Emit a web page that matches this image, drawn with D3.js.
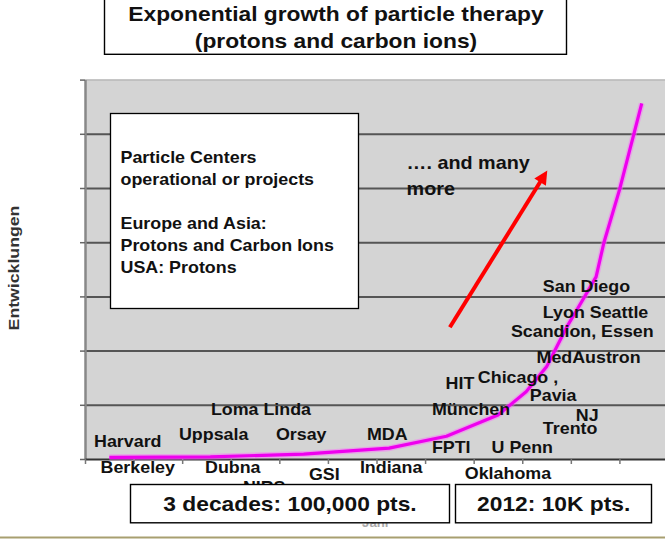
<!DOCTYPE html>
<html>
<head>
<meta charset="utf-8">
<script src="https://cdn.jsdelivr.net/npm/d3@7"></script>
<style>
  body { margin: 0; background: #fff; }
  svg { display: block; }
  text { font-family: "Liberation Sans", Arial, sans-serif; font-weight: bold; }
</style>
</head>
<body>
<script>
// growth curve (year, relative development)
const years  = [1957.5, 1967.9, 1977.5, 1986.3, 1992.2, 1997.5, 2000.4, 2002.5, 2004.6, 2006.4, 2007.6, 2008.4, 2010.0, 2012.3]
const values = [0.03, 0.04, 0.09, 0.20, 0.42, 0.81, 1.24, 1.70, 2.44, 2.99, 3.36, 3.99, 4.96, 6.56]

// centre names, with the year / level where each label sits
const centers      = ["Harvard", "Berkeley", "Uppsala", "Dubna", "NIRS", "Loma Linda", "Orsay", "GSI", "MDA", "Indiana",
                      "FPTI", "München", "HIT", "Oklahoma", "U Penn", "Chicago ,", "Pavia", "Trento", "NJ",
                      "MedAustron", "Scandion, Essen", "Lyon Seattle", "San Diego"]
const centerYears  = [1955.93, 1956.6, 1964.67, 1967.35, 1971.25, 1967.96, 1974.65, 1978.05, 1984.01, 1983.29,
                      1990.7, 1990.7, 1992.11, 1994.09, 1996.84, 1995.43, 2000.78, 2002.12, 2005.51,
                      2001.47, 1998.83, 2002.12, 2002.12]
const centerLevels = [0.22, -0.26, 0.35, -0.26, -0.63, 0.81, 0.35, -0.39, 0.35, -0.26,
                      0.11, 0.81, 1.29, -0.37, 0.11, 1.40, 1.07, 0.46, 0.70,
                      1.77, 2.25, 2.60, 3.08]

const yTicks = [0, 1, 2, 3, 4, 5, 6, 7]
const xTicks = [1955, 1960, 1965, 1970, 1975, 1980, 1985, 1990, 1995, 2000, 2005, 2010, 2015]

const titleLines  = ["Exponential growth of particle therapy", "(protons and carbon ions)"]
const legendLines = ["Particle Centers", "operational or projects", "", "Europe and Asia:", "Protons and Carbon Ions", "USA: Protons"]
const moreLines   = ["…. and many", "more"]
const arrowFrom = [1992.55, 2.43]
const arrowTo   = [2002.5, 5.30]
const footA = "3 decades: 100,000 pts."
const footB = "2012: 10K pts."

const W = 665, H = 539
const plotLeft = 85, plotBottom = 459, plotTop = 79.6

const svg = d3.select("body").append("svg")
    .attr("width", W)
    .attr("height", H)

const x = d3.scaleLinear().domain([1955, 2015]).range([plotLeft, 668])
const y = d3.scaleLinear().domain([0, 7]).range([plotBottom, plotTop])

// stretched text helper (the slide was widened a bit)
function label(g, str, px, py, size, sx, anchor, fill) {
    return g.append("text")
        .attr("transform", "translate(" + px + "," + py + ") scale(" + sx + ",1)")
        .attr("text-anchor", anchor || "start")
        .attr("font-size", size + "px")
        .attr("fill", fill || "#111")
        .text(str)
}

// plot background
svg.append("rect")
    .attr("x", plotLeft).attr("y", plotTop)
    .attr("width", W - plotLeft).attr("height", plotBottom - plotTop)
    .attr("fill", "#d4d4d4")
svg.append("line")
    .attr("x1", plotLeft).attr("x2", W).attr("y1", plotTop + 0.5).attr("y2", plotTop + 0.5)
    .attr("stroke", "#b9b9b9").attr("stroke-width", 1.5)

// grid lines
svg.append("g")
    .attr("transform", "translate(" + plotLeft + ",0)")
    .call(d3.axisLeft(y).tickValues(yTicks.slice(1, 7)).tickSize(-(W - plotLeft)).tickFormat(""))
    .call(g => g.select(".domain").remove())
    .selectAll("line").attr("stroke", "#555").attr("stroke-width", 2)

// left ticks + axis line
svg.append("g")
    .attr("transform", "translate(" + plotLeft + ",0)")
    .call(d3.axisLeft(y).tickValues(yTicks).tickSize(5).tickSizeOuter(0).tickFormat(""))
    .call(g => g.select(".domain").attr("stroke", "#888").attr("stroke-width", 2.5))
    .selectAll("line").attr("stroke", "#666").attr("stroke-width", 1.5)

// bottom axis
svg.append("g")
    .attr("transform", "translate(0," + plotBottom + ")")
    .call(d3.axisBottom(x).tickValues(xTicks).tickSize(5).tickSizeOuter(0).tickFormat(""))
    .call(g => g.select(".domain").attr("stroke", "#333").attr("stroke-width", 2))
    .selectAll("line").attr("stroke", "#777").attr("stroke-width", 1.5)

// axis titles (mostly hidden in the original)
svg.append("text")
    .attr("transform", "translate(19,268) rotate(-90) scale(1.18,1)")
    .attr("text-anchor", "middle")
    .attr("font-size", "15px")
    .attr("fill", "#333")
    .text("Entwicklungen")
label(svg, "Jahr", 376, 527, 12, 1.1, "middle", "#aaa")

// growth curve
const pts = years.map((d, i) => [d, values[i]])
const line = d3.line().x(d => x(d[0])).y(d => y(d[1]))
svg.append("path")
    .datum(pts)
    .attr("d", line)
    .attr("fill", "none")
    .attr("stroke", "#ff66ff")
    .attr("stroke-opacity", 0.45)
    .attr("stroke-width", 6)
    .attr("stroke-linejoin", "round")
svg.append("path")
    .datum(pts)
    .attr("d", line)
    .attr("fill", "none")
    .attr("stroke", "#ee00ee")
    .attr("stroke-width", 3.2)
    .attr("stroke-linejoin", "round")

// centre labels
const labG = svg.append("g")
centers.forEach(function(c, i) {
    label(labG, c, x(centerYears[i]), y(centerLevels[i]), 17, 1.05)
})

// legend box
svg.append("rect")
    .attr("x", 110.5).attr("y", 113.5)
    .attr("width", 248).attr("height", 195)
    .attr("fill", "#fff").attr("stroke", "#000").attr("stroke-width", 1.3)
legendLines.forEach(function(s, i) {
    label(svg, s, 120.5, 163.3 + i * 21.9, 16.4, 1.09)
})

// red arrow
svg.append("defs").append("marker")
    .attr("id", "head")
    .attr("viewBox", "0 0 10 10")
    .attr("refX", 2).attr("refY", 5)
    .attr("markerWidth", 3.6).attr("markerHeight", 3.4)
    .attr("orient", "auto")
    .append("path")
    .attr("d", "M0,0 L10,5 L0,10 z")
    .attr("fill", "#ff0000")
svg.append("line")
    .attr("x1", x(arrowFrom[0])).attr("y1", y(arrowFrom[1]))
    .attr("x2", x(arrowTo[0]) - 5).attr("y2", y(arrowTo[1]) + 8)
    .attr("stroke", "#ff0000")
    .attr("stroke-width", 4)
    .attr("marker-end", "url(#head)")

moreLines.forEach(function(s, i) {
    label(svg, s, x(1988.1), y(5.35) + i * 25.5, 18, 1.1)
})

// title box
svg.append("rect")
    .attr("x", 104.5).attr("y", -2)
    .attr("width", 462).attr("height", 56.3)
    .attr("fill", "#fff").attr("stroke", "#000").attr("stroke-width", 1.4)
titleLines.forEach(function(s, i) {
    label(svg, s, 336, 21 + i * 26.5, 20, 1.14, "middle")
})

// footer boxes
svg.append("rect")
    .attr("x", 130.5).attr("y", 484.5)
    .attr("width", 319).attr("height", 38.3)
    .attr("fill", "#fff").attr("stroke", "#000").attr("stroke-width", 1.4)
svg.append("rect")
    .attr("x", 455.5).attr("y", 484.5)
    .attr("width", 196).attr("height", 38.3)
    .attr("fill", "#fff").attr("stroke", "#000").attr("stroke-width", 1.4)
label(svg, footA, 290, 510.5, 20, 1.14, "middle")
label(svg, footB, 553.7, 510.5, 20, 1.14, "middle")

// slide footer line
svg.append("line")
    .attr("x1", 0).attr("x2", W).attr("y1", 537.5).attr("y2", 537.5)
    .attr("stroke", "#a89f70").attr("stroke-width", 2)
label(svg, "Add 2011", 592, 549, 13, 1.1, "start", "#555")
</script>
</body>
</html>
